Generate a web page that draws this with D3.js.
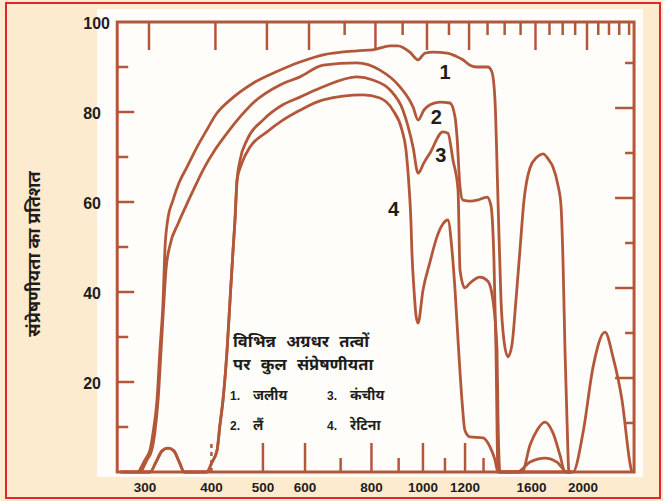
<!DOCTYPE html>
<html>
<head>
<meta charset="utf-8">
<script src="https://cdn.jsdelivr.net/npm/d3@7"></script>
<style>
  body { margin: 0; background: #fdebd0; }
  svg { display: block; }
</style>
</head>
<body>
<svg id="chart" width="663" height="501"></svg>
<script>
// wavelengths (nm) and total transmission (%)
const aqueousNm  = [292, 300, 306.6, 310.6, 316, 320, 324.5, 327, 331, 338.7, 347.5, 360, 375.8, 392, 408.8, 434, 479, 533.7, 587, 649, 751, 805, 867, 897, 945, 979, 1009, 1044, 1110, 1154, 1189, 1226, 1264, 1325, 1348, 1366, 1384, 1402, 1420, 1445, 1470, 1496, 1522, 1549, 1590, 1639, 1682, 1726, 1756, 1794, 1818, 1834, 1850, 1866, 1882, 1915, 2000, 2089, 2200, 2277, 2368, 2451, 2470];
const aqueousPct = [0, 2.7, 4.9, 8.7, 16, 27, 38.2, 49.3, 56, 60.4, 64.2, 67.8, 72.2, 76, 79.6, 82.7, 86.4, 89.1, 91.1, 92.7, 93.6, 93.8, 94.7, 94.7, 93.3, 91.6, 93.1, 93.3, 93.1, 92.4, 91.6, 90.4, 90, 90, 88.9, 82.7, 60.4, 38.2, 29.3, 25.6, 28.2, 38.2, 49.3, 60.4, 67.6, 70, 70.7, 69.3, 67.8, 63.8, 59.3, 47, 27, 11.6, 0, 0, 8.7, 23.3, 31.1, 25.6, 16, 2, 0];

const lensNm  = [295, 302.6, 309, 313, 317.5, 321.6, 325.7, 328.5, 334.3, 346, 358.2, 370.8, 385.7, 406.3, 428, 452.8, 479, 538.3, 587, 649, 751, 830, 905, 958, 979, 1004, 1031, 1076, 1124, 1149, 1159, 1174, 1189, 1226, 1264, 1320, 1342, 1360, 1372, 1384, 1536, 1590, 1639, 1696, 1756, 1810, 1850, 1900];
const lensPct = [0, 2.7, 4.9, 8.7, 16, 27, 38.2, 44.9, 50.4, 55.1, 59.1, 62.9, 67.1, 71.6, 75.3, 78.9, 82, 86, 87.8, 90.4, 90.9, 89.3, 85.6, 81.1, 78.2, 80.4, 81.6, 82.2, 82, 78.9, 74.4, 63.3, 60.4, 60.2, 60.4, 61.1, 59.3, 47, 27, 0, 0, 6, 9.3, 11.1, 8.7, 3.8, 0, 0];

const vitreousNm  = [270, 306.6, 314.6, 323, 331.4, 340, 348, 355.5, 392, 401, 410, 415, 420.6, 428, 433.6, 439.3, 443, 447, 452.8, 466.7, 500, 545, 587, 649, 751, 805, 867, 917, 958, 979, 1004, 1031, 1090, 1114, 1139, 1164, 1174, 1199, 1226, 1280, 1325, 1354, 1378, 1384, 1396, 1503, 1590, 1696, 1787, 1866, 1900];
const vitreousPct = [0, 0, 2.2, 4.7, 5.3, 4.7, 2.2, 0, 0, 2.2, 4.9, 10.4, 16, 27, 38.2, 49.3, 56, 64.9, 69.3, 73.8, 78.2, 81.6, 83.3, 85.6, 87.8, 87.1, 84.9, 80.4, 72.2, 66.4, 68.7, 70.9, 75.6, 75.3, 69.3, 62.7, 44.9, 40.9, 42, 43.3, 42.4, 38.2, 27.1, 12.2, 0, 0, 2.2, 3.1, 2.2, 0, 0];

const retinaNm  = [270, 306.6, 314.6, 323, 331.4, 340, 348, 355.5, 392, 401, 410, 415, 420.6, 428, 433.6, 439.3, 443, 447, 456.7, 472.8, 509, 545, 587, 649, 771, 830, 878, 913, 929, 941, 949, 953, 962, 970, 979, 1000, 1031, 1062, 1090, 1114, 1134, 1149, 1164, 1184, 1199, 1226, 1297, 1337, 1366, 1384, 1900];
const retinaPct = [0, 0, 2.2, 4.7, 5.3, 4.7, 2.2, 0, 0, 2.2, 4.9, 10.4, 16, 27, 38.2, 49.3, 56, 64.9, 68.7, 72.2, 75.6, 78.2, 80.4, 82.7, 83.8, 83.1, 80.4, 76, 71.6, 63.8, 56, 49.3, 40.4, 34.9, 33.1, 40.4, 46.7, 52.2, 55.1, 56, 49.3, 40.4, 29.3, 16, 9.3, 7.8, 7.6, 5.6, 2.7, 0, 0];

const curveLabels = ["1", "2", "3", "4"];
const curveLabelAt = [[1100, 89], [1060, 79], [1080, 70.5], [880, 58.5]];

const xTickLabels = [300, 400, 500, 600, 800, 1000, 1200, 1600, 2000];
const topTicks = [300, 400, 500, 600, 700, 800, 900, 1000, 1100, 1200, 1300, 1400, 1500, 1600, 1700, 1800, 1900, 2000, 2100, 2200, 2300, 2400];
const bottomTicks = [400, 500, 600, 700, 800, 900, 1000, 1100, 1200, 1300];
const yTickLabels = [20, 40, 60, 80, 100];
const yTicks = [10, 20, 30, 40, 50, 60, 70, 80, 90];

const yTitle = "संप्रेषणीयता का प्रतिशत";
const legendTitle = ["विभिन्न अग्रधर तत्वों", "पर कुल संप्रेषणीयता"];
const legendItems = [["1.", "जलीय"], ["3.", "कंचीय"], ["2.", "लैं"], ["4.", "रेटिना"]];

const brown = "#b3573b";
const ink = "#1d1d1d";
const hindi = "'Noto Sans Devanagari', 'Lohit Devanagari', 'FreeSans', 'Mangal', sans-serif";
const latin = "'Liberation Sans', Arial, sans-serif";

const svg = d3.select("#chart");

// log wavelength axis as on the original plot
const x = d3.scaleLog().domain([300, 2000]).range([145, 583]);
const y = d3.scaleLinear().domain([0, 100]).range([472, 22]);

svg.append("rect").attr("width", 663).attr("height", 501).attr("fill", "#fdebd0");
svg.append("rect")
  .attr("x", 97).attr("y", 9).attr("width", 546).attr("height", 468)
  .attr("fill", "#fffdfa");
svg.append("rect")
  .attr("x", 6).attr("y", 3).attr("width", 654).attr("height", 495)
  .attr("fill", "none").attr("stroke", "#e3262c").attr("stroke-width", 2);

// frame
const x0 = x(266), x1 = x(2495);
svg.append("rect")
  .attr("x", x0).attr("y", y(100))
  .attr("width", x1 - x0).attr("height", y(0) - y(100))
  .attr("fill", "none").attr("stroke", brown).attr("stroke-width", 3);

const isLong = v => xTickLabels.includes(v);

// top ticks, pointing down
svg.append("g").selectAll("line").data(topTicks).enter().append("line")
  .attr("x1", d => x(d) + 4).attr("x2", d => x(d) + 4)
  .attr("y1", y(100)).attr("y2", d => y(100) + (isLong(d) ? 28 : 13))
  .attr("stroke", brown).attr("stroke-width", 2.5);

// bottom ticks, pointing up
svg.append("g").selectAll("line").data(bottomTicks).enter().append("line")
  .attr("x1", d => x(d)).attr("x2", d => x(d))
  .attr("y1", y(0)).attr("y2", d => y(0) - (isLong(d) ? 29 : 14))
  .attr("stroke", brown).attr("stroke-width", 2.5)
  .attr("stroke-dasharray", d => d === 400 ? "4,4" : null);

// left and right ticks
svg.append("g").selectAll("line").data(yTicks).enter().append("line")
  .attr("x1", x0).attr("x2", d => x0 + (d % 20 === 0 ? 17 : 11))
  .attr("y1", d => y(d)).attr("y2", d => y(d))
  .attr("stroke", brown).attr("stroke-width", 2.5);
svg.append("g").selectAll("line").data(yTicks).enter().append("line")
  .attr("x1", x1).attr("x2", d => x1 - (d % 20 === 0 ? 19 : 9))
  .attr("y1", d => y(d) - 4).attr("y2", d => y(d) - 4)
  .attr("stroke", brown).attr("stroke-width", 2.5);

// tick labels
svg.append("g").selectAll("text").data(xTickLabels).enter().append("text")
  .attr("x", d => x(d)).attr("y", 487)
  .attr("text-anchor", "middle").attr("dominant-baseline", "central")
  .style("font", `bold 13.5px ${latin}`).attr("fill", ink)
  .text(d => d);

svg.append("g").selectAll("text").data(yTickLabels).enter().append("text")
  .attr("x", d => d === 100 ? 110 : 101).attr("y", d => y(d) + 1)
  .attr("text-anchor", "end").attr("dominant-baseline", "central")
  .style("font", `bold 16px ${latin}`).attr("fill", ink)
  .text(d => d);

svg.append("text")
  .attr("transform", "translate(35,254) rotate(-90)")
  .attr("text-anchor", "middle").attr("dominant-baseline", "central")
  .style("font", `bold 18px ${hindi}`).attr("fill", ink)
  .text(yTitle);

// curves
const series = [
  aqueousNm.map((d, i) => [d, aqueousPct[i]]),
  lensNm.map((d, i) => [d, lensPct[i]]),
  vitreousNm.map((d, i) => [d, vitreousPct[i]]),
  retinaNm.map((d, i) => [d, retinaPct[i]])
];

const line = d3.line()
  .x(d => x(d[0]))
  .y(d => y(d[1]))
  .curve(d3.curveMonotoneX);

svg.append("g").selectAll("path").data(series).enter().append("path")
  .attr("d", line)
  .attr("fill", "none")
  .attr("stroke", brown)
  .attr("stroke-width", 2.8)
  .attr("stroke-linejoin", "round");

svg.append("g").selectAll("text").data(curveLabels).enter().append("text")
  .attr("x", (d, i) => x(curveLabelAt[i][0]))
  .attr("y", (d, i) => y(curveLabelAt[i][1]))
  .attr("text-anchor", "middle").attr("dominant-baseline", "central")
  .style("font", `bold 20px ${latin}`).attr("fill", ink)
  .text(d => d);

// legend box text
const legend = svg.append("g").attr("transform", "translate(233,0)");
legend.selectAll("text.title").data(legendTitle).enter().append("text")
  .attr("class", "title")
  .attr("x", 0).attr("y", (d, i) => 343 + i * 23)
  .attr("dominant-baseline", "central")
  .style("font", `bold 16.5px ${hindi}`).style("word-spacing", "6px")
  .attr("fill", ink)
  .text(d => d);

const item = legend.selectAll("g.item").data(legendItems).enter().append("g")
  .attr("class", "item")
  .attr("transform", (d, i) => `translate(${(i % 2) * 97 - 3},${396 + Math.floor(i / 2) * 30})`);
item.append("text")
  .attr("dominant-baseline", "central")
  .style("font", `bold 12px ${latin}`).attr("fill", ink)
  .text(d => d[0]);
item.append("text")
  .attr("x", 23)
  .attr("dominant-baseline", "central")
  .style("font", `bold 14px ${hindi}`).attr("fill", ink)
  .text(d => d[1]);
</script>
</body>
</html>
